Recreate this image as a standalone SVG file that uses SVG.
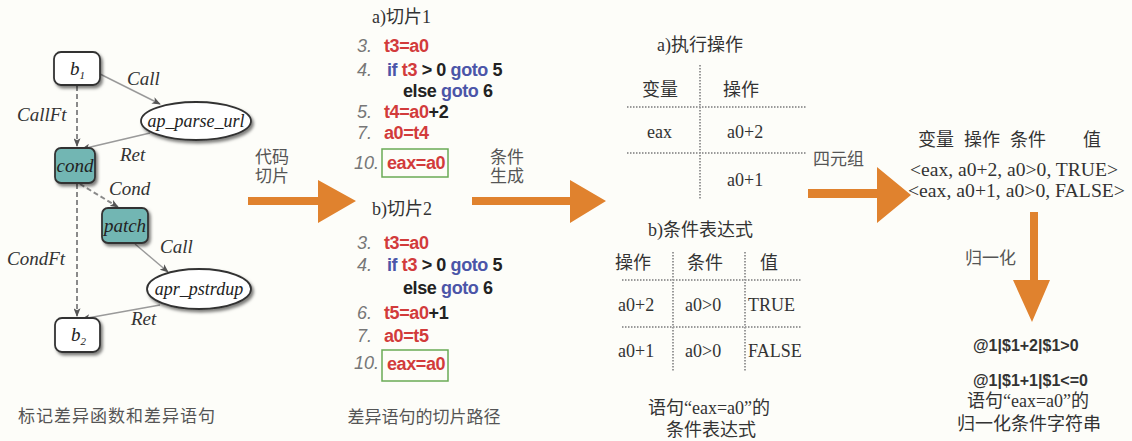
<svg xmlns="http://www.w3.org/2000/svg" width="1132" height="441" viewBox="0 0 1132 441">
<defs>
<filter id="sh" x="-20%" y="-20%" width="150%" height="160%"><feDropShadow dx="2" dy="2.5" stdDeviation="1.5" flood-color="#000" flood-opacity="0.5"/></filter>
<marker id="ah" viewBox="0 0 10 8" refX="9" refY="4" markerWidth="9" markerHeight="7" orient="auto" markerUnits="userSpaceOnUse"><path d="M0,0 L10,4 L0,8 L2.5,4 z" fill="#555"/></marker>
<style>
.bg{fill:#fdfdf9}
.box{fill:#fff;stroke:#333;stroke-width:1.8}
.teal{fill:#72b6b3;stroke:#333;stroke-width:1.8}
.ell{fill:#fff;stroke:#333;stroke-width:1.8}
.it{font-family:"Liberation Serif",serif;font-style:italic;fill:#222}
.lab{font-family:"Liberation Serif",serif;font-style:italic;font-size:19px;fill:#333}
.sol{stroke:#9a9a9a;stroke-width:1.4;fill:none}
.dsh{stroke:#8a8a8a;stroke-width:2;stroke-dasharray:5 3;fill:none}
.code{font-family:"Liberation Sans",sans-serif;font-weight:bold;font-size:18px;fill:#222;letter-spacing:-0.4px}
.num{font-family:"Liberation Sans",sans-serif;font-style:italic;font-size:18px;fill:#777}
.r{fill:#d23b3b}
.bl{fill:#4b55a8}
.ser{font-family:"Liberation Serif","Noto Sans CJK SC",serif;font-size:18px;fill:#333}
.cn{font-family:"Liberation Serif","Noto Sans CJK SC",sans-serif;font-size:17px;fill:#555}
.dot{stroke:#9a9a9a;stroke-width:2;stroke-dasharray:1.5 1.5;fill:none}
.or{fill:#e0822e}
.grn{fill:none;stroke:#6aaa55;stroke-width:1.5}
.nz{font-family:"Liberation Sans",sans-serif;font-weight:bold;font-size:16px;fill:#333}
</style>
</defs>
<rect class="bg" x="0" y="0" width="1132" height="441"/>

<!-- connectors -->
<g id="connectors">
<path class="dsh" d="M77,86 L77,146" marker-end="url(#ah)"/>
<path class="sol" d="M100,74 L160,104" marker-end="url(#ah)"/>
<path class="sol" d="M150,133 L82,149" marker-end="url(#ah)"/>
<path class="dsh" d="M80,184 L118,207" marker-end="url(#ah)"/>
<path class="dsh" d="M77,184 L77,316" marker-end="url(#ah)"/>
<path class="sol" d="M135,244 L168,272" marker-end="url(#ah)"/>
<path class="sol" d="M160,305 L82,319" marker-end="url(#ah)"/>
<text class="lab" x="127" y="85">Call</text>
<text class="lab" x="17" y="121">CallFt</text>
<text class="lab" x="120" y="161">Ret</text>
<text class="lab" x="109" y="195">Cond</text>
<text class="lab" x="160" y="253">Call</text>
<text class="lab" x="7" y="265">CondFt</text>
<text class="lab" x="131" y="325">Ret</text>
</g>

<g id="b1"><rect class="box" filter="url(#sh)" x="54" y="52" width="46" height="33" rx="7"/><text class="it" x="70" y="75" font-size="19">b<tspan font-size="11" dy="4">1</tspan></text></g>
<g id="ap_parse_url"><ellipse class="ell" filter="url(#sh)" cx="196" cy="121" rx="55" ry="19"/><text class="it" x="196" y="127" font-size="18" text-anchor="middle">ap_parse_url</text></g>
<g id="cond"><rect class="teal" filter="url(#sh)" x="55" y="148" width="40" height="35" rx="6"/><text class="it" x="75" y="172" font-size="19" text-anchor="middle">cond</text></g>
<g id="patch"><rect class="teal" filter="url(#sh)" x="102" y="208" width="46" height="35" rx="6"/><text class="it" x="125" y="232" font-size="19" text-anchor="middle">patch</text></g>
<g id="apr_pstrdup"><ellipse class="ell" filter="url(#sh)" cx="199" cy="289" rx="52" ry="20"/><text class="it" x="199" y="295" font-size="18" text-anchor="middle">apr_pstrdup</text></g>
<g id="b2"><rect class="box" filter="url(#sh)" x="55" y="318" width="45" height="34" rx="7"/><text class="it" x="71" y="341" font-size="19">b<tspan font-size="11" dy="4">2</tspan></text></g>
<text class="cn" x="18" y="422" font-size="18" letter-spacing="1">标记差异函数和差异语句</text>

<!-- arrows -->
<g id="arrow1"><polygon class="or" points="248,197 318,197 318,180 356,201 318,223 318,205 248,205"/>
<text class="cn" x="255" y="163">代码</text><text class="cn" x="255" y="182">切片</text></g>
<g id="arrow2"><polygon class="or" points="472,197 570,197 570,180 606,201 570,223 570,205 472,205"/>
<text class="cn" x="490" y="163">条件</text><text class="cn" x="490" y="182">生成</text></g>
<g id="arrow3"><polygon class="or" points="808,189 877,189 877,167 911,195 877,223 877,198 808,198"/>
<text class="cn" x="813" y="165">四元组</text></g>
<g id="arrow4"><polygon class="or" points="1030,212 1038,212 1038,280 1050,280 1032,322 1013,280 1030,280"/>
<text class="cn" x="965" y="264">归一化</text></g>

<!-- slice 1 -->
<g id="slice1">
<text class="ser" x="372" y="23">a)切片1</text>
<text class="num" x="357" y="52">3.</text><text class="code r" x="384" y="52">t3=a0</text>
<text class="num" x="357" y="76">4.</text><text class="code" x="387" y="76"><tspan class="bl">if</tspan> <tspan class="r">t3</tspan> &gt; 0 <tspan class="bl">goto</tspan> 5</text>
<text class="code" x="403" y="97">else <tspan class="bl">goto</tspan> 6</text>
<text class="num" x="357" y="118">5.</text><text class="code" x="384" y="118"><tspan class="r">t4=a0</tspan>+2</text>
<text class="num" x="357" y="139">7.</text><text class="code r" x="384" y="139">a0=t4</text>
<text class="num" x="354" y="169">10.</text><rect class="grn" x="382" y="149" width="66" height="28"/><text class="code r" x="387" y="169">eax=a0</text>
</g>

<!-- slice 2 -->
<g id="slice2">
<text class="ser" x="372" y="215">b)切片2</text>
<text class="num" x="357" y="249">3.</text><text class="code r" x="384" y="249">t3=a0</text>
<text class="num" x="357" y="271">4.</text><text class="code" x="387" y="271"><tspan class="bl">if</tspan> <tspan class="r">t3</tspan> &gt; 0 <tspan class="bl">goto</tspan> 5</text>
<text class="code" x="403" y="294">else <tspan class="bl">goto</tspan> 6</text>
<text class="num" x="357" y="319">6.</text><text class="code" x="384" y="319"><tspan class="r">t5=a0</tspan>+1</text>
<text class="num" x="357" y="342">7.</text><text class="code r" x="384" y="342">a0=t5</text>
<text class="num" x="354" y="369">10.</text><rect class="grn" x="382" y="350" width="66" height="31"/><text class="code r" x="387" y="370">eax=a0</text>
<text class="cn" x="424" y="423" font-size="18" text-anchor="middle">差异语句的切片路径</text>
</g>

<!-- table a -->
<g id="tableA">
<text class="ser" x="657" y="51">a)执行操作</text>
<path class="dot" d="M700,65 L700,200 M627,107 L807,107 M627,153 L807,153"/>
<text class="ser" x="642" y="96" fill="#555">变量</text><text class="ser" x="723" y="96" fill="#555">操作</text>
<text class="ser" x="647" y="138">eax</text><text class="ser" x="727" y="138">a0+2</text>
<text class="ser" x="727" y="186">a0+1</text>
</g>

<!-- table b -->
<g id="tableB">
<text class="ser" x="648" y="236">b)条件表达式</text>
<path class="dot" d="M673,252 L673,372 M745,252 L745,372 M622,280 L802,280 M622,327 L802,327"/>
<text class="ser" x="615" y="269" fill="#555">操作</text><text class="ser" x="687" y="269" fill="#555">条件</text><text class="ser" x="760" y="269" fill="#555">值</text>
<text class="ser" x="618" y="311">a0+2</text><text class="ser" x="685" y="311">a0&gt;0</text><text class="ser" x="748" y="311">TRUE</text>
<text class="ser" x="618" y="357">a0+1</text><text class="ser" x="685" y="357">a0&gt;0</text><text class="ser" x="748" y="357">FALSE</text>
<text class="ser" x="709" y="414" text-anchor="middle">语句“eax=a0”的</text>
<text class="ser" x="711" y="436" text-anchor="middle">条件表达式</text>
</g>

<!-- quadruples -->
<g id="quads">
<text class="ser" x="918" y="146" fill="#444">变量</text><text class="ser" x="964" y="146" fill="#444">操作</text><text class="ser" x="1010" y="146" fill="#444">条件</text><text class="ser" x="1083" y="146" fill="#444">值</text>
<text class="ser" x="910" y="176" textLength="208" lengthAdjust="spacingAndGlyphs">&lt;eax, a0+2, a0&gt;0, TRUE&gt;</text>
<text class="ser" x="908" y="197" textLength="217" lengthAdjust="spacingAndGlyphs">&lt;eax, a0+1, a0&gt;0, FALSE&gt;</text>
</g>

<!-- normalized -->
<g id="normalized">
<text class="nz" x="973" y="351">@1|$1+2|$1&gt;0</text>
<text class="nz" x="973" y="386">@1|$1+1|$1&lt;=0</text>
<text class="ser" x="1028" y="407" text-anchor="middle">语句“eax=a0”的</text>
<text class="ser" x="1029" y="430" text-anchor="middle">归一化条件字符串</text>
</g>
</svg>
